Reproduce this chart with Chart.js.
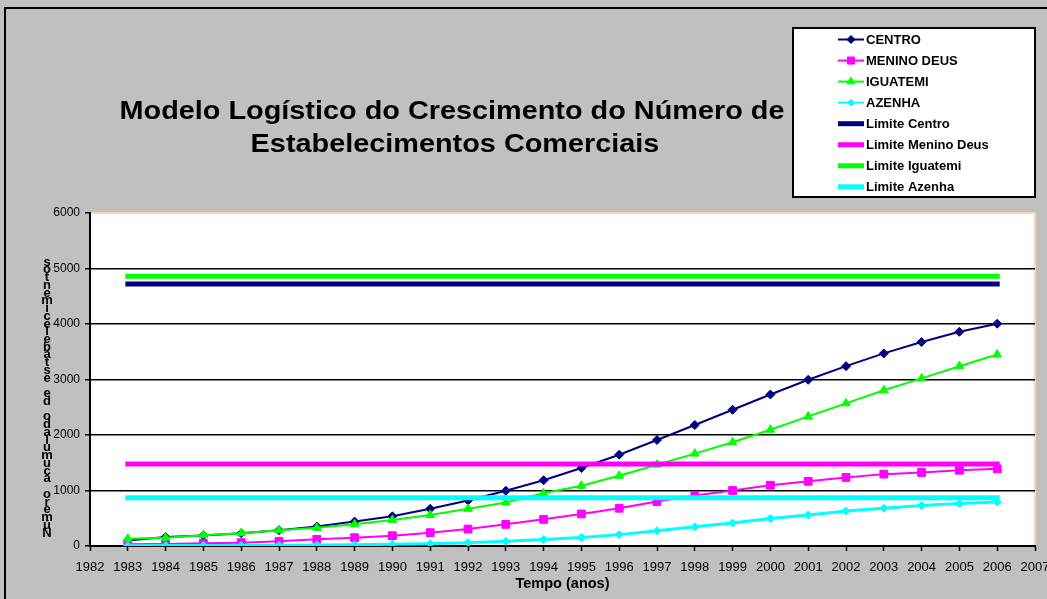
<!DOCTYPE html>
<html>
<head>
<meta charset="utf-8">
<script src="https://cdn.jsdelivr.net/npm/chart.js@4.4.1/dist/chart.umd.min.js"></script>
<style>
  html, body { margin: 0; padding: 0; background: #c0c0c0; overflow: hidden; }
  #wrap { width: 1047px; height: 599px; }
</style>
</head>
<body>
<div id="wrap"><canvas id="chart" width="1047" height="599"></canvas></div>
<script>
var years = [1983, 1984, 1985, 1986, 1987, 1988, 1989, 1990, 1991, 1992, 1993, 1994,
             1995, 1996, 1997, 1998, 1999, 2000, 2001, 2002, 2003, 2004, 2005, 2006];
var centro = [100, 160, 190, 230, 285, 350, 440, 535, 670, 820, 995, 1185,
              1405, 1645, 1910, 2180, 2455, 2730, 2995, 3240, 3470, 3675, 3860, 4005];
var meninoDeus = [30, 38, 48, 60, 85, 120, 150, 185, 240, 305, 390, 480,
                  578, 680, 800, 910, 1000, 1095, 1165, 1235, 1295, 1325, 1365, 1390];
var iguatemi = [130, 150, 195, 230, 285, 330, 390, 470, 560, 670, 785, 950,
                1085, 1265, 1465, 1665, 1870, 2095, 2335, 2570, 2805, 3020, 3240, 3450];
var azenha = [5, 7, 9, 11, 14, 17, 21, 30, 42, 60, 85, 115,
              155, 205, 275, 345, 415, 495, 560, 632, 680, 728, 765, 795];

var seriesLabels = ["CENTRO", "MENINO DEUS", "IGUATEMI", "AZENHA"];
var limitLabels = ["Limite Centro", "Limite Menino Deus", "Limite Iguatemi", "Limite Azenha"];
var limitValues = [4720, 1478, 4862, 870];
var colors = ["#000080", "#ff00ff", "#00ff00", "#00ffff"];

var titleLines = ["Modelo Logístico do Crescimento do Número de", "Estabelecimentos Comerciais"];
var yTitle = "Número acumulado de estabelecimentos";
var xTitle = "Tempo (anos)";

function points(vals) {
  return years.map(function (y, i) { return { x: y, y: vals[i] }; });
}

var seriesValues = [centro, meninoDeus, iguatemi, azenha];
var markers = [
  { style: "rectRot", r: 4.5 },
  { style: "rect", r: 5.5 },
  { style: "triangle", r: 5 },
  { style: "rectRot", r: 4 }
];

var datasets = [];
seriesValues.forEach(function (vals, i) {
  datasets.push({
    label: seriesLabels[i],
    data: points(vals),
    borderColor: colors[i],
    backgroundColor: colors[i],
    borderWidth: i === 3 ? 3 : 2,
    pointStyle: markers[i].style,
    pointRadius: markers[i].r,
    pointBorderWidth: 1,
    tension: 0
  });
});
limitValues.forEach(function (v, i) {
  datasets.push({
    label: limitLabels[i],
    data: [{ x: years[0], y: v }, { x: years[years.length - 1], y: v }],
    borderColor: colors[i],
    backgroundColor: colors[i],
    borderWidth: 5,
    borderCapStyle: "square",
    pointRadius: 0,
    isLimit: true
  });
});
// later series on top, like the original
datasets.forEach(function (d, i) { d.order = datasets.length - i; });

var decor = {
  id: "decor",
  beforeDraw: function (chart) {
    var c = chart.ctx, a = chart.chartArea;
    c.save();
    c.fillStyle = "#c0c0c0";
    c.fillRect(0, 0, chart.width, chart.height);
    c.strokeStyle = "#000";
    c.lineWidth = 2;
    c.beginPath();
    c.moveTo(5, chart.height);
    c.lineTo(5, 8);
    c.lineTo(chart.width, 8);
    c.stroke();
    c.fillStyle = "#fff";
    c.fillRect(a.left, a.top, a.right - a.left, a.bottom - a.top);
    c.strokeStyle = "#ffd4a8";
    c.lineWidth = 2;
    c.beginPath();
    c.moveTo(a.left, a.top);
    c.lineTo(a.right, a.top);
    c.lineTo(a.right, a.bottom);
    c.stroke();
    c.restore();
  },
  afterDraw: function (chart) {
    var c = chart.ctx;
    c.save();
    // title, slightly stretched sideways like the original
    c.fillStyle = "#000";
    c.textAlign = "center";
    c.textBaseline = "middle";
    c.font = "bold 25px 'Liberation Sans', Arial, sans-serif";
    var w = c.measureText(titleLines[0]).width;
    var sx = 665 / w;
    c.save();
    c.scale(sx, 1);
    c.fillText(titleLines[0], 452 / sx, 112);
    c.fillText(titleLines[1], 455 / sx, 145);
    c.restore();

    // y title, characters stacked upright from the bottom
    c.font = "bold 13px 'Liberation Sans', Arial, sans-serif";
    var chars = yTitle.split("");
    var step = (533 - 262) / (chars.length - 1);
    chars.forEach(function (ch, i) {
      c.fillText(ch, 47, 533 - i * step);
    });

    // legend box
    var bx = 793, by = 28, bw = 242, bh = 169;
    c.fillStyle = "#fff";
    c.fillRect(bx, by, bw, bh);
    c.strokeStyle = "#000";
    c.lineWidth = 2;
    c.strokeRect(bx, by, bw, bh);
    c.textAlign = "left";
    c.font = "bold 13px 'Liberation Sans', Arial, sans-serif";
    chart.data.datasets.forEach(function (d, i) {
      var y = 39.5 + i * 21.05;
      c.strokeStyle = d.borderColor;
      c.lineWidth = d.isLimit ? 5 : 2;
      c.beginPath();
      c.moveTo(838, y);
      c.lineTo(864, y);
      c.stroke();
      if (!d.isLimit && Chart.helpers && Chart.helpers.drawPoint) {
        c.fillStyle = d.backgroundColor;
        c.lineWidth = 1;
        Chart.helpers.drawPoint(c, { pointStyle: d.pointStyle, radius: d.pointRadius - 0.5, borderWidth: 1 }, 851, y);
      }
      c.fillStyle = "#000";
      c.fillText(d.label, 866, y + 0.5);
    });
    c.restore();
  }
};

new Chart(document.getElementById("chart"), {
  type: "line",
  data: { datasets: datasets },
  options: {
    responsive: false,
    animation: false,
    devicePixelRatio: 1,
    layout: { padding: { top: 213, right: 12, left: 0, bottom: 0 } },
    plugins: { legend: { display: false }, tooltip: { enabled: false }, title: { display: false } },
    scales: {
      x: {
        type: "linear",
        min: 1982,
        max: 2007,
        afterFit: function (s) { s.height = 53; s.paddingRight = 0; s.paddingLeft = 0; },
        ticks: {
          stepSize: 1,
          autoSkip: false,
          maxRotation: 0,
          padding: 9,
          color: "#000",
          font: { family: "'Liberation Sans', Arial, sans-serif", size: 13 },
          callback: function (v) { return String(v); }
        },
        grid: { drawOnChartArea: false, tickColor: "#000", tickLength: 5, tickWidth: 1.5 },
        border: { color: "#000", width: 2 },
        title: {
          display: true,
          text: xTitle,
          color: "#000",
          padding: { top: 0, bottom: 6 },
          font: { family: "'Liberation Sans', Arial, sans-serif", size: 14.5, weight: "bold" }
        }
      },
      y: {
        min: 0,
        max: 6000,
        afterFit: function (s) { s.width = 90; },
        ticks: {
          stepSize: 1000,
          padding: 5,
          color: "#000",
          font: { family: "'Liberation Sans', Arial, sans-serif", size: 12 },
          callback: function (v) { return String(v); }
        },
        grid: {
          color: function (ctx) { return ctx.tick && ctx.tick.value === 6000 ? "rgba(0,0,0,0)" : "#000"; },
          lineWidth: 1.5,
          tickColor: "#000",
          tickLength: 5
        },
        border: { color: "#000", width: 2 }
      }
    }
  },
  plugins: [decor]
});
</script>
</body>
</html>
